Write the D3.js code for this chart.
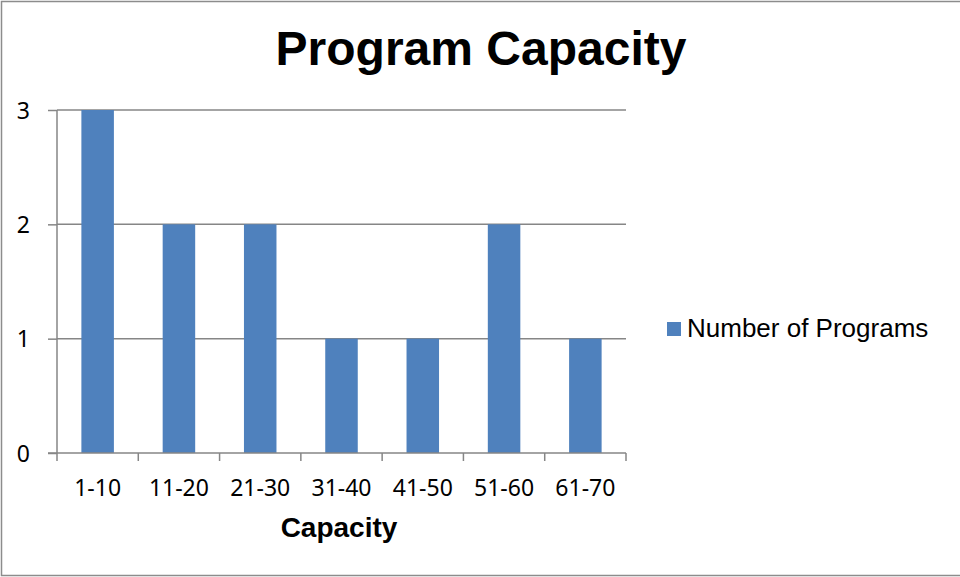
<!DOCTYPE html>
<html>
<head>
<meta charset="utf-8">
<script src="https://cdn.jsdelivr.net/npm/d3@7"></script>
<style>
  body { margin: 0; background: #fff; }
  svg { display: block; }
  .arial { font-family: 'Liberation Sans', 'Arimo', Arial, Helvetica, sans-serif; }
  .body { font-family: 'Noto Sans', sans-serif; }
</style>
</head>
<body>
<script>
// chart data
var categories = ['1-10', '11-20', '21-30', '31-40', '41-50', '51-60', '61-70'];
var programCounts = [3, 2, 2, 1, 1, 2, 1];
var yTicks = [0, 1, 2, 3];
var seriesName = 'Number of Programs';

var W = 960, H = 577;
var plot = {left: 57, right: 626, top: 110, bottom: 453};

var svg = d3.select('body').append('svg').attr('width', W).attr('height', H);

// outer frame (no right edge in the original)
svg.append('path').attr('d', 'M' + W + ',1.5H1.5V575.5H' + W)
  .attr('fill', 'none').attr('stroke', '#8c8c8c').attr('stroke-width', 1.5);

var x = d3.scaleBand().domain(categories).range([plot.left, plot.right]).padding(0);
var y = d3.scaleLinear().domain([0, 3]).range([plot.bottom, plot.top]);

// gridlines
svg.append('g').selectAll('line').data(yTicks.slice(1)).enter().append('line')
  .attr('x1', plot.left).attr('x2', plot.right)
  .attr('y1', function(d) { return y(d); }).attr('y2', function(d) { return y(d); })
  .attr('stroke', '#868686').attr('stroke-width', 1.5);

// bars
var barW = x.bandwidth() * 0.4;
svg.append('g').selectAll('rect').data(programCounts).enter().append('rect')
  .attr('x', function(d, i) { return x(categories[i]) + (x.bandwidth() - barW) / 2; })
  .attr('y', function(d) { return y(d); })
  .attr('width', barW)
  .attr('height', function(d) { return y(0) - y(d); })
  .attr('fill', '#4f81bd');

// y axis
var yAxis = svg.append('g').attr('transform', 'translate(' + plot.left + ',0)')
  .call(d3.axisLeft(y).tickValues(yTicks).tickFormat(d3.format('d')).tickSize(9).tickPadding(18));
yAxis.selectAll('line, path').attr('stroke', '#868686').attr('stroke-width', 1.5);
yAxis.select('.domain').attr('d', 'M0,' + plot.top + 'V' + plot.bottom);
yAxis.selectAll('text').attr('class', 'body').attr('font-family', null).attr('font-size', 23)
  .attr('fill', '#000').attr('dy', '0.36em');

// x axis, ticks on the category borders
var xAxis = svg.append('g').attr('transform', 'translate(0,' + plot.bottom + ')');
xAxis.append('line').attr('x1', plot.left - 9).attr('x2', plot.right)
  .attr('stroke', '#868686').attr('stroke-width', 1.5);
var edges = categories.map(function(c) { return x(c); }).concat([x.range()[1]]);
xAxis.selectAll('line.tick').data(edges).enter().append('line').attr('class', 'tick')
  .attr('x1', function(d) { return d; }).attr('x2', function(d) { return d; })
  .attr('y1', 0).attr('y2', 8)
  .attr('stroke', '#868686').attr('stroke-width', 1.5);
xAxis.selectAll('text').data(categories).enter().append('text')
  .attr('class', 'body')
  .attr('x', function(d) { return x(d) + x.bandwidth() / 2; })
  .attr('y', 43)
  .attr('text-anchor', 'middle')
  .attr('font-size', 23).attr('fill', '#000')
  .text(function(d) { return d; });

// titles
svg.append('text').attr('class', 'arial').attr('x', 481).attr('y', 65).attr('text-anchor', 'middle')
  .attr('font-weight', 'bold').attr('font-size', 48).text('Program Capacity');

svg.append('text').attr('class', 'arial').attr('x', 339).attr('y', 537).attr('text-anchor', 'middle')
  .attr('font-weight', 'bold').attr('font-size', 28).text('Capacity');

// legend
var legend = svg.append('g').attr('transform', 'translate(667,322)');
legend.append('rect').attr('width', 14).attr('height', 14).attr('fill', '#4f81bd');
legend.append('text').attr('class', 'arial').attr('x', 20).attr('y', 15)
  .attr('font-size', 26).text(seriesName);
</script>
</body>
</html>
